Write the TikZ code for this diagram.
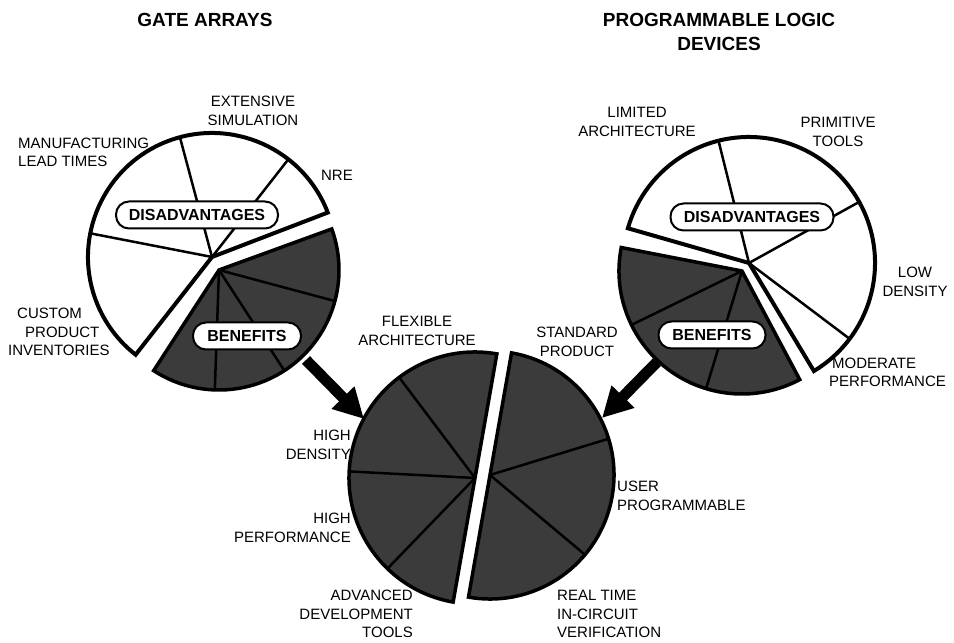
\documentclass[tikz,border=0pt]{standalone}
\usepackage{fontspec}
\setmainfont{Liberation Sans}
\usetikzlibrary{arrows.meta}
\definecolor{dark}{gray}{0.23}
\begin{document}
\begin{tikzpicture}[x=1pt,y=1pt,
  lbl/.style={font=\fontsize{15}{18.5}\selectfont, inner sep=0pt},
  ttl/.style={font=\fontsize{19}{24}\selectfont\bfseries, inner sep=0pt, align=center},
  tag/.style={draw, line width=2pt, fill=white, rounded corners=13pt, minimum height=27pt, inner sep=0pt, font=\fontsize{16}{19}\selectfont\bfseries},
  wslice/.style={draw, fill=white, line width=4pt},
  dslice/.style={draw, fill=dark, line width=3.5pt},
  div/.style={line width=2.5pt},
  bigarrow/.style={line width=11pt, -{Triangle[width=30pt,length=30pt]}}
]
\useasboundingbox (0,0) rectangle (954,643);

% titles
\node[ttl] (t1) at (205,623) {GATE ARRAYS};
\node[ttl] (t2) at (719,611) {PROGRAMMABLE LOGIC\\DEVICES};

% ---------- left pie (gate arrays)
\coordinate (C1) at (212,386);
\draw[wslice] (C1) -- ++(21:124) arc[start angle=21, end angle=232, radius=124] -- cycle;
\foreach \a in {52,105,169} \draw[div] (C1) -- ++(\a:124);
\coordinate (A1) at (219,373);
\draw[dslice] (A1) -- ++(-123:120) arc[start angle=-123, end angle=20, radius=120] -- cycle;
\foreach \a in {-15,-57,-92} \draw[div] (A1) -- ++(\a:120);
\node[tag, minimum width=162pt] (dis1) at (197,428) {DISADVANTAGES};
\node[tag, minimum width=108pt] (ben1) at (247,307) {BENEFITS};

\node[lbl, align=center] (l1) at (253,532) {EXTENSIVE\\SIMULATION};
\node[lbl, align=left, anchor=west] (l2) at (18,490.5) {MANUFACTURING\\LEAD TIMES};
\node[lbl] (l3) at (337,468) {NRE};
\node[lbl, align=left, anchor=west] (l4) at (8,311) {\hspace*{9pt}CUSTOM\\\hspace*{17pt}PRODUCT\\INVENTORIES};

% ---------- right pie (PLD)
\coordinate (C2) at (749,380);
\draw[wslice] (C2) -- ++(-59:126) arc[start angle=-59, end angle=164, radius=126] -- cycle;
\foreach \a in {-37,29,104} \draw[div] (C2) -- ++(\a:126);
\coordinate (A2) at (742,372);
\draw[dslice] (A2) -- ++(169:123) arc[start angle=169, end angle=298, radius=123] -- cycle;
\foreach \a in {206,253} \draw[div] (A2) -- ++(\a:123);
\node[tag, minimum width=163pt] (dis2) at (752,426) {DISADVANTAGES};
\node[tag, minimum width=107pt] (ben2) at (712,308) {BENEFITS};

\node[lbl, align=center] (r1) at (637,521) {LIMITED\\ARCHITECTURE};
\node[lbl, align=center] (r2) at (838,511) {PRIMITIVE\\TOOLS};
\node[lbl, align=center] (r3) at (915,361) {LOW\\DENSITY};
\node[lbl, align=left, anchor=west] (r4) at (829,270.5) {\hspace*{3pt}MODERATE\\PERFORMANCE};

% ---------- centre pie
\coordinate (L) at (475,165);
\draw[dslice] (L) -- ++(80:126) arc[start angle=80, end angle=260, radius=126] -- cycle;
\foreach \a in {127,177,226} \draw[div] (L) -- ++(\a:126);
\coordinate (Rc) at (490,168);
\draw[dslice] (Rc) -- ++(-100:124) arc[start angle=-100, end angle=80, radius=124] -- cycle;
\foreach \a in {17,-40} \draw[div] (Rc) -- ++(\a:124);

\node[lbl, align=center] (c1) at (417,312) {FLEXIBLE\\ARCHITECTURE};
\node[lbl, align=center] (c2) at (577,301) {STANDARD\\PRODUCT};
\node[lbl, align=right, anchor=east] (c3) at (351,198) {HIGH\\DENSITY};
\node[lbl, align=right, anchor=east] (c4) at (351,115) {HIGH\\PERFORMANCE};
\node[lbl, align=left, anchor=west] (c5) at (617,147) {USER\\PROGRAMMABLE};
\node[lbl, align=right, anchor=east] (c6) at (413,29) {ADVANCED\\DEVELOPMENT\\TOOLS};
\node[lbl, align=left, anchor=west] (c7) at (557,29) {REAL TIME\\IN-CIRCUIT\\VERIFICATION};

% ---------- arrows
\coordinate (a1s) at (306,283);
\coordinate (a1e) at (364,224);
\draw[bigarrow] (a1s) -- (a1e);
\coordinate (a2s) at (657,281);
\coordinate (a2e) at (602,225);
\draw[bigarrow] (a2s) -- (a2e);
\end{tikzpicture}
\end{document}
